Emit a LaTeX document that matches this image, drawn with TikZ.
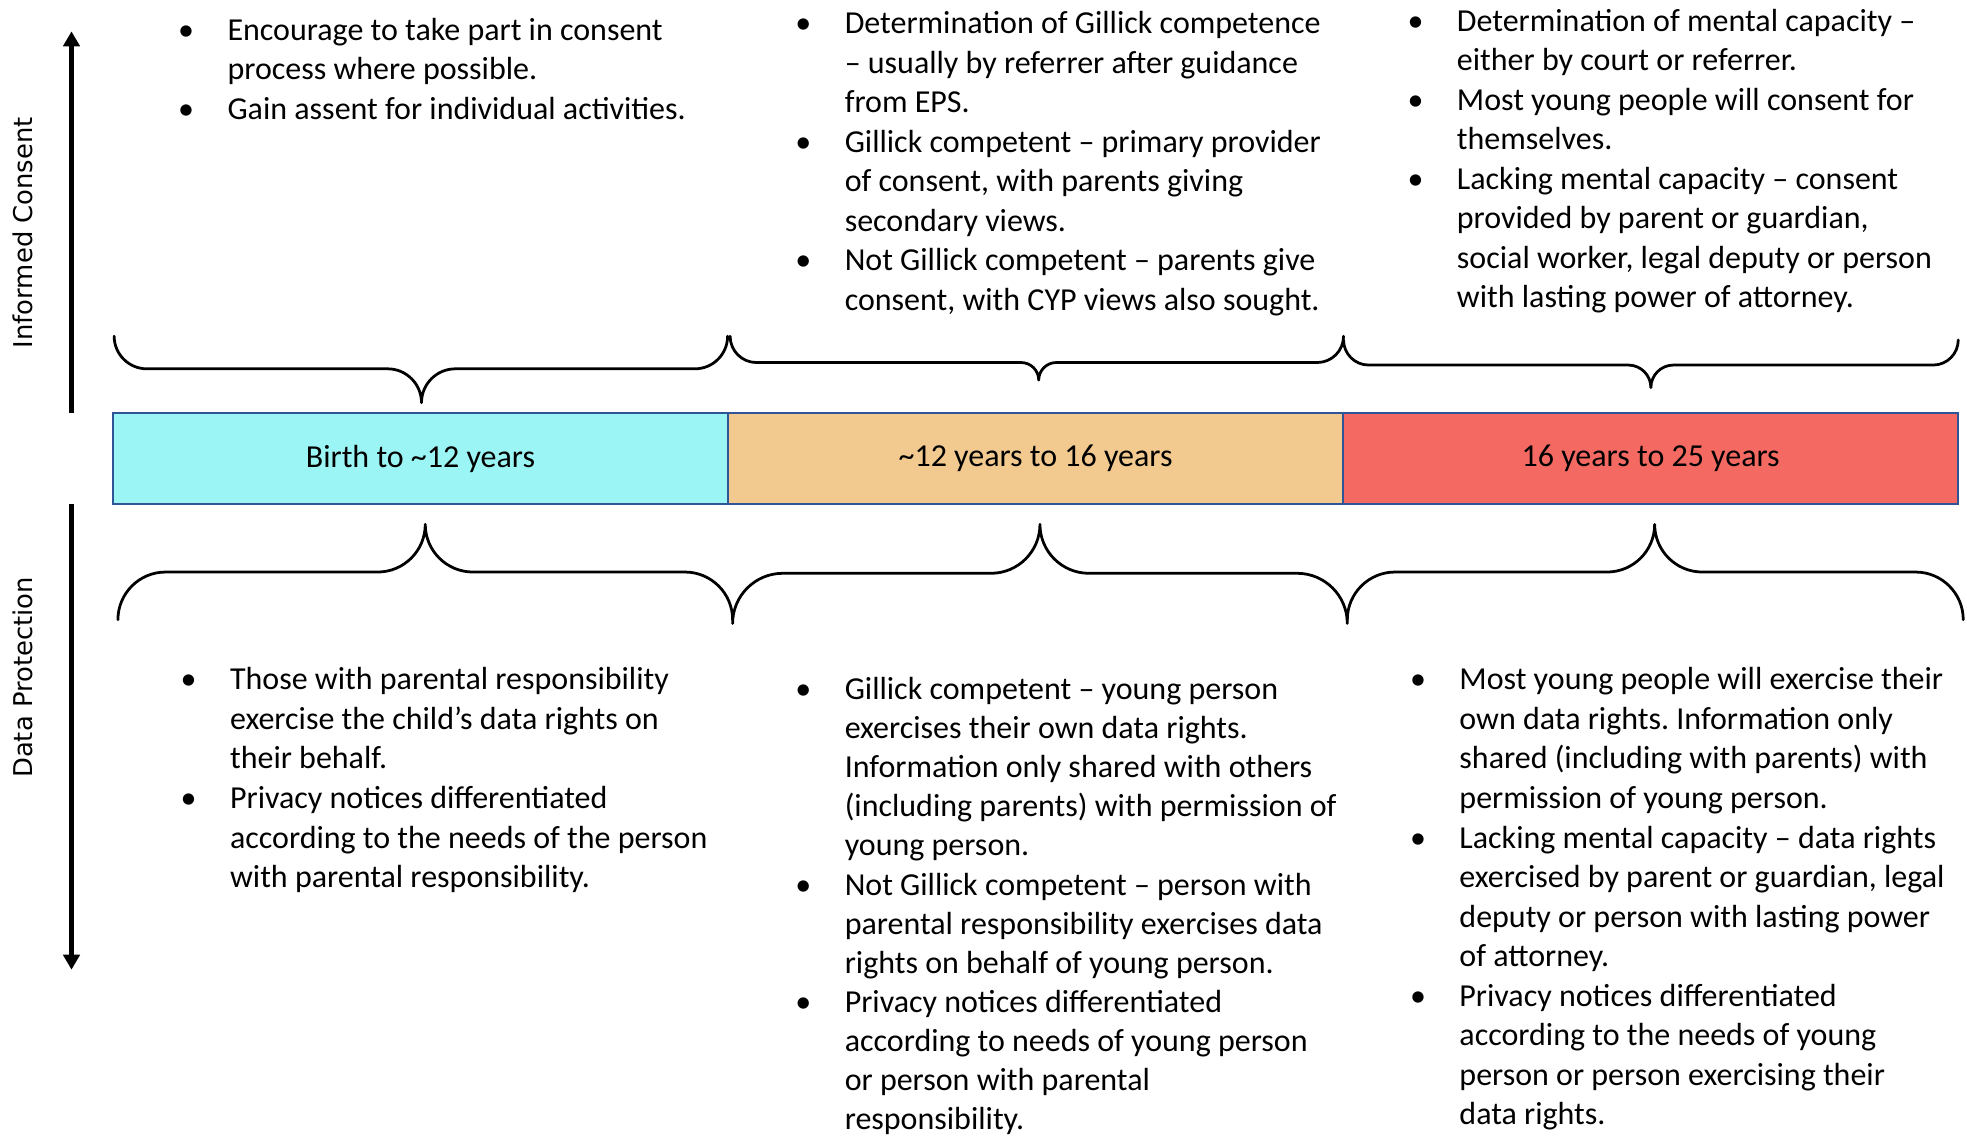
\documentclass[tikz,border=0pt]{standalone}
\usepackage{fontspec}
\setmainfont{Carlito}
\newfontfamily\sidefont{DejaVu Sans}
\usetikzlibrary{arrows.meta}
\definecolor{segA}{HTML}{9CF5F5}
\definecolor{segB}{HTML}{F2C98F}
\definecolor{segC}{HTML}{F46A62}
\definecolor{segline}{HTML}{2F5597}
\frenchspacing
\newcommand{\bodyfnt}{\fontsize{12.75pt}{15.75pt}\selectfont}
\newcommand{\tightfnt}{\fontsize{12.75pt}{15.6pt}\selectfont}
\newcommand{\sidefnt}{\sidefont\fontsize{10.3pt}{12pt}\selectfont}
\newcommand{\bl}{\makebox[33pt][c]{\textbullet}}
\newcommand{\ind}{\hspace*{33pt}}
% xl, xr, xtip, yend, yhoriz, ytip
\newcommand{\drawbrace}[6]{%
  \pgfmathsetmacro{\bcR}{abs(#5-#4)}%
  \pgfmathsetmacro{\bmR}{abs(#6-#5)}%
  \draw[bracestyle] (#1,#4) .. controls (#1,{#4+0.552*(#5-#4)}) and ({#1+0.448*\bcR},#5) .. ({#1+\bcR},#5)
    -- ({#3-\bmR},#5) .. controls ({#3-0.448*\bmR},#5) and (#3,{#5+0.448*(#6-#5)}) .. (#3,#6)
    .. controls (#3,{#5+0.448*(#6-#5)}) and ({#3+0.448*\bmR},#5) .. ({#3+\bmR},#5)
    -- ({#2-\bcR},#5) .. controls ({#2-0.448*\bcR},#5) and (#2,{#4+0.552*(#5-#4)}) .. (#2,#4);
}
\tikzset{
  seg/.style={draw=segline, line width=0.9pt, minimum width=245.17pt, minimum height=36.5pt, inner sep=0pt, font=\bodyfnt},
  blist/.style={anchor=base west, inner sep=0pt, font=\bodyfnt},
  sidelab/.style={rotate=90, anchor=base, inner sep=0pt, font=\sidefnt},
  bracestyle/.style={line width=1.1pt, line cap=round, line join=round},
  vaxis/.style={line width=1.6pt, -{Triangle[length=6pt,width=6.5pt]}}
}
\begin{document}
\begin{tikzpicture}[x=0.5pt,y=-0.5pt]
\useasboundingbox (0,0) rectangle (1568,909);

% side axes
\coordinate (icA) at (57,329);
\coordinate (icB) at (57,25);
\coordinate (dpA) at (57,402);
\coordinate (dpB) at (57,773);
\draw[vaxis] (icA) -- (icB);
\draw[vaxis] (dpA) -- (dpB);
\node[sidelab] (ic) at (26,185.5) {Informed Consent};
\node[sidelab] (dp) at (26,540) {Data Protection};

% age bar
\node[seg, fill=segA] (s1) at (335.17,365.5) {Birth to \textasciitilde12 years};
\node[seg, fill=segB] (s2) at (825.5,365.5) {\textasciitilde12 years to 16 years};
\node[seg, fill=segC] (s3) at (1315.83,365.5) {16 years to 25 years};

% top braces
\drawbrace{91}{580}{336}{268}{294}{321}
\drawbrace{582}{1071}{828}{268}{289}{303}
\drawbrace{1071}{1561}{1316}{271}{291}{309}
% bottom braces
\drawbrace{94}{584}{339}{494}{456}{418}
\drawbrace{584}{1074}{829}{497}{457}{418}
\drawbrace{1074}{1565}{1319}{494}{456}{418}

% informed consent texts
\node[blist] (ic1) at (115,32) {\begin{tabular}[t]{@{}l@{}}
\bl Encourage to take part in consent\\
\ind process where possible.\\
\bl Gain assent for individual activities.
\end{tabular}};
\node[blist] (ic2) at (607,27) {\begin{tabular}[t]{@{}l@{}}
\bl Determination of Gillick competence\\
\ind -- usually by referrer after guidance\\
\ind from EPS.\\
\bl Gillick competent -- primary provider\\
\ind of consent, with parents giving\\
\ind secondary views.\\
\bl Not Gillick competent -- parents give\\
\ind consent, with CYP views also sought.
\end{tabular}};
\node[blist] (ic3) at (1095,25) {\begin{tabular}[t]{@{}l@{}}
\bl Determination of mental capacity --\\
\ind either by court or referrer.\\
\bl Most young people will consent for\\
\ind themselves.\\
\bl Lacking mental capacity -- consent\\
\ind provided by parent or guardian,\\
\ind social worker, legal deputy or person\\
\ind with lasting power of attorney.
\end{tabular}};

% data protection texts
\node[blist] (dp1) at (117,550) {\begin{tabular}[t]{@{}l@{}}
\bl Those with parental responsibility\\
\ind exercise the child's data rights on\\
\ind their behalf.\\
\bl Privacy notices differentiated\\
\ind according to the needs of the person\\
\ind with parental responsibility.
\end{tabular}};
\node[blist, font=\tightfnt] (dp2) at (607,557.5) {\begin{tabular}[t]{@{}l@{}}
\bl Gillick competent -- young person\\
\ind exercises their own data rights.\\
\ind Information only shared with others\\
\ind (including parents) with permission of\\
\ind young person.\\
\bl Not Gillick competent -- person with\\
\ind parental responsibility exercises data\\
\ind rights on behalf of young person.\\
\bl Privacy notices differentiated\\
\ind according to needs of young person\\
\ind or person with parental\\
\ind responsibility.
\end{tabular}};
\node[blist] (dp3) at (1097,550) {\begin{tabular}[t]{@{}l@{}}
\bl Most young people will exercise their\\
\ind own data rights. Information only\\
\ind shared (including with parents) with\\
\ind permission of young person.\\
\bl Lacking mental capacity -- data rights\\
\ind exercised by parent or guardian, legal\\
\ind deputy or person with lasting power\\
\ind of attorney.\\
\bl Privacy notices differentiated\\
\ind according to the needs of young\\
\ind person or person exercising their\\
\ind data rights.
\end{tabular}};
\end{tikzpicture}
\end{document}
